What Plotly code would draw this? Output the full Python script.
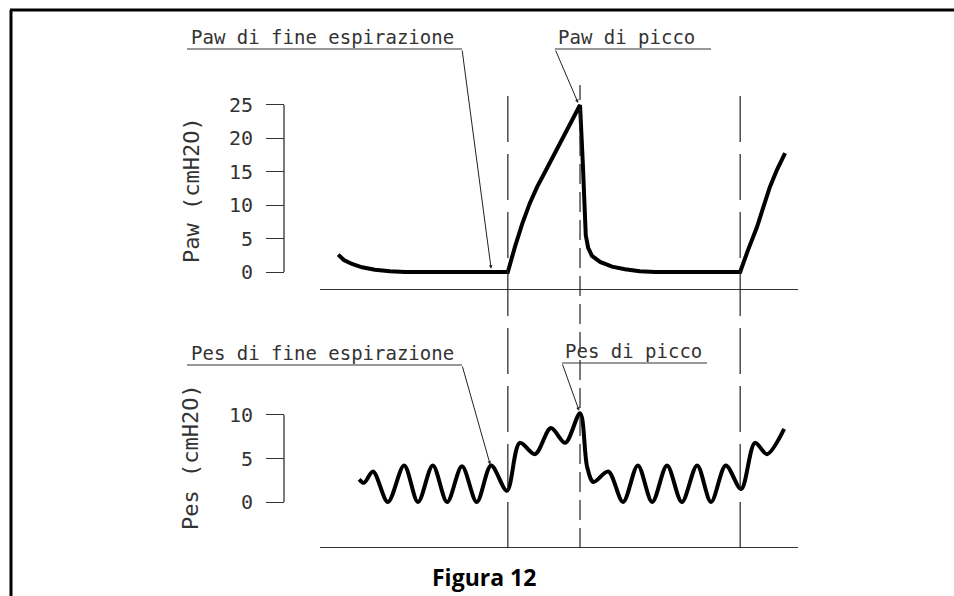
import plotly.graph_objects as go

# ---------------- data (time in s, pressure in cmH2O) ----------------
paw_t = [0.38, 0.50, 0.67, 0.88, 1.15, 1.46, 1.78, 3.93, 4.08, 4.23, 4.39, 4.54, 4.71,
         4.98, 5.23, 5.44, 5.50, 5.56, 5.61, 5.69, 5.86, 6.11, 6.38, 6.69, 7.01, 8.79,
         8.95, 9.14, 9.27, 9.41, 9.56, 9.73]
paw_v = [2.6, 1.8, 1.2, 0.7, 0.35, 0.1, 0.0, 0.0, 3.8, 7.2, 10.3, 12.7, 15.0,
         18.7, 22.2, 25.0, 16.0, 5.5, 3.6, 2.4, 1.5, 0.8, 0.4, 0.1, 0.0, 0.0,
         3.2, 6.7, 9.6, 12.7, 15.3, 17.8]

pes_t = [0.82, 0.92, 1.11, 1.42, 1.76, 2.05, 2.36, 2.66, 2.97, 3.28, 3.58, 3.91,
         4.18, 4.50, 4.83, 5.13, 5.44, 5.59, 5.72, 6.03, 6.34, 6.65, 6.95, 7.26,
         7.57, 7.89, 8.18, 8.49, 8.81, 9.10, 9.35, 9.71]
pes_v = [2.6, 2.2, 3.5, 0.0, 4.2, 0.0, 4.2, 0.0, 4.1, 0.0, 4.2, 1.3,
         6.8, 5.5, 8.5, 6.8, 10.2, 4.0, 2.3, 3.5, 0.0, 4.2, 0.0, 4.2,
         0.0, 4.2, 0.0, 4.2, 1.5, 6.8, 5.5, 8.4]

paw_ticks = [0, 5, 10, 15, 20, 25]
pes_ticks = [0, 5, 10]
event_t = [3.93, 5.44, 8.79]           # start insp., peak, next start insp.

ann_labels = ["Paw di fine espirazione", "Paw di picco",
              "Pes di fine espirazione", "Pes di picco"]
ann_tip_t = [3.58, 5.40, 3.56, 5.42]
ann_tip_v = [0.5, 25.3, 4.3, 10.5]
ann_axis = ["y", "y", "y2", "y2"]

y_titles = ["Paw (cmH2O)", "Pes (cmH2O)"]
fig_title = "Figura 12"

# ---------------- layout helpers ----------------
W, H = 954, 596
def PX(x):
    return x / W
def PY(y):
    return 1 - y / H

FONT = "DejaVu Sans Mono"
INK = "#333"

fig = go.Figure()
fig.add_trace(go.Scatter(x=paw_t, y=paw_v, mode="lines", xaxis="x", yaxis="y",
                         line=dict(color="black", width=4), showlegend=False,
                         hoverinfo="skip"))
fig.add_trace(go.Scatter(x=pes_t, y=pes_v, mode="lines", xaxis="x2", yaxis="y2",
                         line=dict(color="black", width=4, shape="spline", smoothing=0.9),
                         showlegend=False, hoverinfo="skip"))

xcommon = dict(domain=[PX(320), PX(798)], range=[0, 10], showline=True,
               linecolor="#333", linewidth=1.3, showticklabels=False, ticks="",
               showgrid=False, zeroline=False, fixedrange=True)
ycommon = dict(anchor="free", position=PX(284), side="left", ticks="outside",
               ticklen=18, tickwidth=1.3, tickcolor="#333", showline=False,
               showgrid=False, zeroline=False, ticklabelstandoff=9,
               tickfont=dict(family=FONT, size=20, color=INK),
               fixedrange=True)

fig.update_layout(
    width=W, height=H, autosize=False,
    margin=dict(l=0, r=0, t=0, b=0),
    paper_bgcolor="white", plot_bgcolor="white",
    xaxis=dict(anchor="y", **xcommon),
    xaxis2=dict(anchor="y2", matches="x", **xcommon),
    yaxis=dict(domain=[PY(289), PY(85)], range=[-2.545, 27.99],
               tickvals=paw_ticks, **ycommon),
    yaxis2=dict(domain=[PY(547), PY(380)], range=[-5.17, 14.02],
                tickvals=pes_ticks, **ycommon),
)

shapes = []
# y-axis spines (only over the labelled range)
shapes.append(dict(type="line", xref="paper", yref="y", x0=PX(284), x1=PX(284),
                   y0=paw_ticks[0], y1=paw_ticks[-1], line=dict(color="#333", width=1.3)))
shapes.append(dict(type="line", xref="paper", yref="y2", x0=PX(284), x1=PX(284),
                   y0=pes_ticks[0], y1=pes_ticks[-1], line=dict(color="#333", width=1.3)))
# vertical event lines
dashes = ["46px,12px", "20px,8px", "46px,12px"]
for t, d in zip(event_t, dashes):
    shapes.append(dict(type="line", xref="x", yref="paper", x0=t, x1=t,
                       y0=PY(548), y1=PY(85), line=dict(color="#222", width=1.2, dash=d)))
# label underlines
under = [(187, 462, 49), (555, 711, 49), (187, 462, 365), (562, 707, 363)]
for x0, x1, y in under:
    shapes.append(dict(type="line", xref="paper", yref="paper", x0=PX(x0), x1=PX(x1),
                       y0=PY(y), y1=PY(y), line=dict(color="#333", width=1.2)))
# outer frame (left and top)
shapes.append(dict(type="line", xref="paper", yref="paper", x0=PX(11), x1=PX(11),
                   y0=PY(10), y1=PY(600), line=dict(color="black", width=3)))
shapes.append(dict(type="line", xref="paper", yref="paper", x0=PX(10), x1=PX(960),
                   y0=PY(10), y1=PY(10), line=dict(color="black", width=3)))
fig.update_layout(shapes=shapes)

annotations = []
# label texts
text_pos = [(189, 37), (556, 37), (189, 353), (563, 351)]
for lab, (x, y) in zip(ann_labels, text_pos):
    annotations.append(dict(text=lab, xref="paper", yref="paper", x=PX(x), y=PY(y),
                            xanchor="left", yanchor="middle", showarrow=False,
                            font=dict(family=FONT, size=19, color=INK)))
# leader arrows
tails = [(462, 49), (555, 49), (462, 365), (562, 363)]
for i in range(4):
    t = ann_tip_t[i]
    v = ann_tip_v[i]
    xpix = 320 + t * (798 - 320) / 10
    if ann_axis[i] == "y":
        ypix = 272 - v * (272 - 105) / 25
    else:
        ypix = 502 - v * (502 - 415) / 10
    annotations.append(dict(text="", x=t, y=v, xref="x", yref=ann_axis[i],
                            showarrow=True, arrowhead=2, arrowsize=0.7, arrowwidth=1,
                            arrowcolor="#222", ax=tails[i][0] - xpix, ay=tails[i][1] - ypix,
                            standoff=0, startstandoff=0))
# y-axis titles
for txt, (x, y) in zip(y_titles, [(192, 190), (190, 457)]):
    annotations.append(dict(text=txt, xref="paper", yref="paper", x=PX(x), y=PY(y),
                            xanchor="center", yanchor="middle", textangle=-90,
                            showarrow=False,
                            font=dict(family=FONT, size=22, color=INK)))
# figure caption
annotations.append(dict(text="<b>" + fig_title + "</b>", xref="paper", yref="paper",
                        x=PX(484), y=PY(577), xanchor="center", yanchor="middle",
                        showarrow=False,
                        font=dict(family="Open Sans", size=23, color="black")))
fig.update_layout(annotations=annotations)

fig.write_html("out.html", config={"displayModeBar": False},
               post_script="document.body.style.margin='0';")
